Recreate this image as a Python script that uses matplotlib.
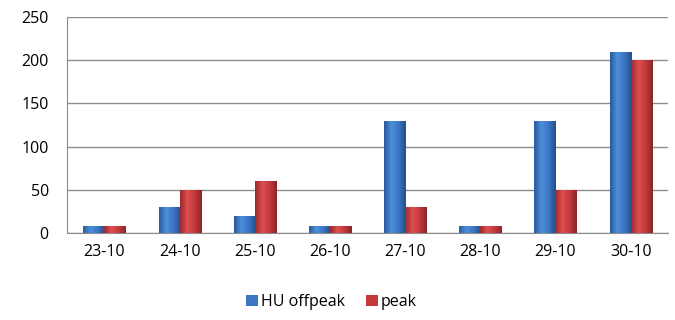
from matplotlib import pyplot as plt
from matplotlib.colors import LinearSegmentedColormap
import numpy as np

plt.rcParams['font.family'] = ['Open Sans', 'DejaVu Sans']

dates = ['23-10', '24-10', '25-10', '26-10', '27-10', '28-10', '29-10', '30-10']
offpeak = [8, 30, 20, 8, 130, 8, 130, 210]
peak = [8, 50, 60, 8, 30, 8, 50, 200]

blue = '#3a76c4'
red = '#c43a3c'
blue_cm = LinearSegmentedColormap.from_list('b', ['#2a5a9c', '#4d8fdc', '#3a76c4', '#244f8c'])
red_cm = LinearSegmentedColormap.from_list('r', ['#9a2a2c', '#de4f50', '#c43a3c', '#8a2426'])

fig = plt.figure(figsize=(6.75, 3.2), dpi=100)
ax = fig.add_axes([0.099, 0.272, 0.891, 0.675])

x = np.arange(len(dates))
w = 0.28
b1 = ax.bar(x - w / 2, offpeak, w, color=blue, edgecolor='none', zorder=3)
b2 = ax.bar(x + w / 2, peak, w, color=red, edgecolor='none', zorder=3)

# horizontal gradient on each bar, clipped to the bar shape
grad = np.linspace(0, 1, 64).reshape(1, -1)
for bars, cm in ((b1, blue_cm), (b2, red_cm)):
    for p in bars:
        x0, y0 = p.get_x(), p.get_y()
        im = ax.imshow(grad, cmap=cm, aspect='auto', zorder=4,
                       extent=(x0, x0 + p.get_width(), y0, y0 + p.get_height()))
        im.set_clip_path(p)

ax.set_xlim(-0.5, len(dates) - 0.5)
ax.set_ylim(0, 250)
ax.set_yticks(range(0, 251, 50))
ax.set_xticks(x)
ax.set_xticklabels(dates)
ax.yaxis.grid(True, color='#8c8c8c', linewidth=1)
ax.set_axisbelow(True)
for s in ['top', 'right']:
    ax.spines[s].set_visible(False)
for s in ['left', 'bottom']:
    ax.spines[s].set_color('#8c8c8c')
ax.tick_params(length=0, labelsize=11.5, colors='black', pad=8)
ax.tick_params(axis='y', pad=13)

leg = ax.legend([b1, b2], ['HU offpeak', 'peak'], loc='center', bbox_to_anchor=(0.44, -0.32),
                ncol=2, frameon=False, fontsize=11.5, handlelength=0.75, handleheight=0.75,
                handletextpad=0.2, columnspacing=1.3)

fig.savefig('out.png', dpi=100)
